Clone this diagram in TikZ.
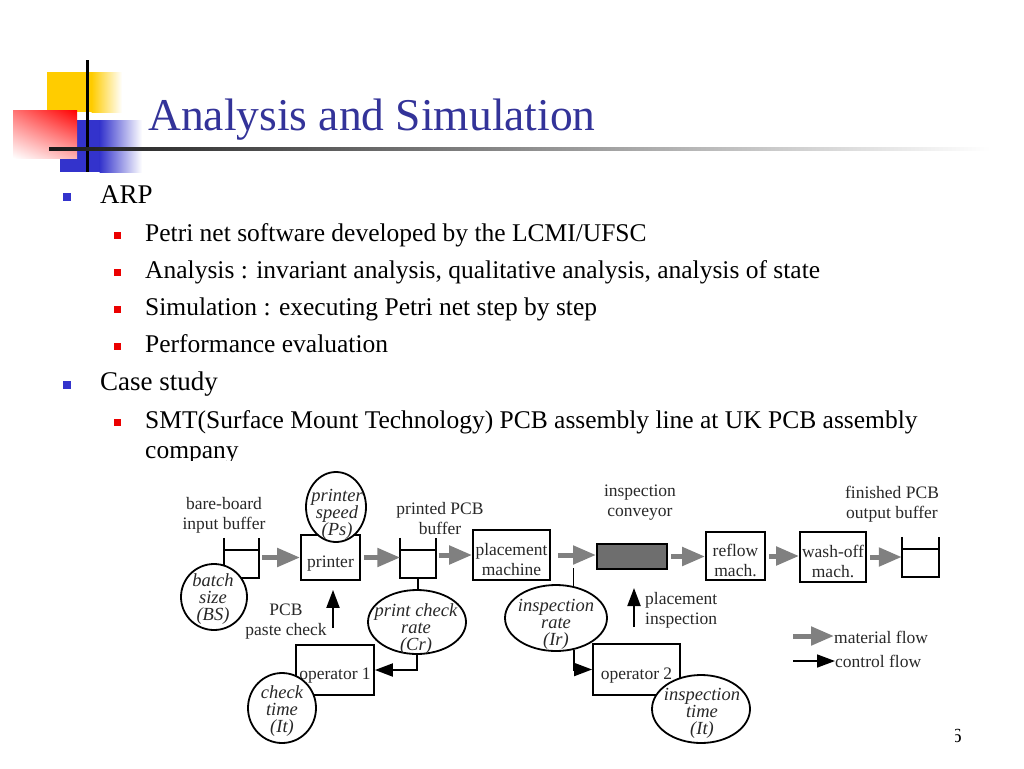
\documentclass[tikz,border=0pt]{standalone}
\usepackage{fontspec}
\setmainfont{Liberation Serif}
\usetikzlibrary{arrows.meta,shapes.geometric,calc,shadings}
\definecolor{titleblue}{RGB}{51,51,153}
\definecolor{bulblue}{RGB}{51,51,204}
\definecolor{bulred}{RGB}{235,0,0}
\definecolor{decoyellow}{RGB}{255,204,0}
\definecolor{flowgray}{RGB}{128,128,128}
\definecolor{convgray}{RGB}{110,110,110}
\definecolor{dtext}{RGB}{40,40,40}
\newcommand\dgmfont{\fontsize{17.5}{20}\selectfont}
\newcommand\elfont{\fontsize{18.5}{17}\selectfont\itshape}
\newcommand\fl{\rule{0pt}{21pt}}
\begin{document}
\begin{tikzpicture}[x=1pt,y=-1pt,
  tone/.style={anchor=base west,inner sep=0pt,font=\fontsize{27}{32}\selectfont},
  ttwo/.style={anchor=base west,inner sep=0pt,font=\fontsize{25.5}{30}\selectfont},
  box/.style={draw,line width=1.8pt,fill=white,inner sep=0pt,align=center,font=\dgmfont,text=dtext},
  oneline/.style={text height=19pt,text depth=0pt},
  circ/.style={ellipse,draw,line width=1.8pt,fill=white,inner sep=0pt},
  etext/.style={align=center,font=\elfont,text=dtext,inner sep=0pt},
  lbl/.style={align=center,font=\dgmfont,text=dtext,inner sep=0pt},
  bufbody/.style={inner sep=0pt,minimum height=28pt},
  bufline/.style={line width=2pt},
  mflow/.style={draw=flowgray,line width=5pt,shorten <=3pt,-{Triangle[length=23pt,width=18pt]}},
  cflow/.style={draw=black,line width=2pt,-{Triangle[length=18pt,width=13pt]}},
  ctl/.style={line width=1.6pt}]
\useasboundingbox (0,0) rectangle (1024,768);
\fill[white] (0,0) rectangle (1024,768);

% title decoration
\fill[decoyellow] (47,72) rectangle (92,112);
\shade[left color=decoyellow,right color=white] (91.5,72) rectangle (122,112);
\fill[bulblue] (60,120) rectangle (100,172);
\shade[left color=bulblue,right color=white] (99.5,120) rectangle (142,172);
\shade[upper right=red,upper left=red!55!white,lower right=red!30!white,lower left=white] (13,110) rectangle (77,158);
\fill[black] (85.5,60) rectangle (88.5,172);
\shade[left color=black!90,right color=white] (49,147.5) rectangle (990,150.5);
\node[anchor=base west,inner sep=0pt,text=titleblue,font=\fontsize{45.5}{55}\selectfont] (title) at (148,130) {Analysis and Simulation};

% bullets
\fill[bulblue] (63,193) rectangle (71,201);
\fill[bulblue] (63,381) rectangle (71,389);
\fill[bulred] (114,232) rectangle (121,239);
\fill[bulred] (114,269) rectangle (121,276);
\fill[bulred] (114,306) rectangle (121,313);
\fill[bulred] (114,343) rectangle (121,350);
\fill[bulred] (114,419) rectangle (121,426);

\node[tone] (arp) at (100,203) {ARP};
\node[ttwo] (b1) at (145,241) {Petri net software developed by the LCMI/UFSC};
\node[ttwo] (b2) at (145,278) {Analysis : invariant analysis, qualitative analysis, analysis of state};
\node[ttwo] (b3) at (145,315) {Simulation : executing Petri net step by step};
\node[ttwo] (b4) at (145,352) {Performance evaluation};
\node[tone] (cs) at (100,390) {Case study};
\node[ttwo] (b5) at (145,428) {SMT(Surface Mount Technology) PCB assembly line at UK PCB assembly};
\node[ttwo] (b6) at (145,458) {company};
\node[anchor=base west,inner sep=0pt,font=\fontsize{20}{24}\selectfont] (pg) at (951.5,742) {6};
% white background of the diagram
\fill[white] (160,461) rectangle (955,768);

% buffers
\node[bufbody,minimum width=35pt] (bb) at (241.5,564) {};
\node[bufbody,minimum width=35pt] (pb) at (418,564) {};
\node[bufbody,minimum width=37pt] (ob) at (920.5,563) {};
\foreach \b in {bb,pb,ob}{
  \draw[bufline] ($(\b.north west)+(0,-12)$) -- (\b.south west) -- (\b.south east) -- ($(\b.north east)+(0,-12)$);
  \draw[bufline] (\b.north west) -- (\b.north east);
}

% boxes
\node[box,oneline,minimum width=59pt,minimum height=45pt] (printer) at (330.5,557.5) {printer};
\node[box,minimum width=77pt,minimum height=50pt] (placement) at (511.5,555) {\fl placement\\machine};
\node[box,fill=convgray,line width=2pt,minimum width=70pt,minimum height=25pt] (conv) at (632,556.5) {};
\node[box,minimum width=59pt,minimum height=48pt] (reflow) at (735.5,556) {\fl reflow\\mach.};
\node[box,minimum width=66pt,minimum height=50pt] (wash) at (833,557) {\fl wash-off\\mach.};
\node[box,oneline,minimum width=78pt,minimum height=50pt] (op1) at (335,670) {operator 1};
\node[box,oneline,minimum width=87pt,minimum height=51pt] (op2) at (636.5,669.5) {operator 2};

% parameter circles
\node[circ,minimum width=66pt,minimum height=66pt] (bs) at (214,597) {};
\node[etext] (bsT) at (213,599) {batch\\size\\(BS)};
\node[circ,minimum width=60pt,minimum height=70pt] (ps) at (336,507) {};
\node[etext] (psT) at (337,514) {printer\\speed\\(Ps)};
\node[circ,minimum width=98pt,minimum height=64pt] (pcr) at (417,622) {};
\node[etext] (pcrT) at (416,629) {print check\\rate\\(Cr)};
\node[circ,minimum width=68pt,minimum height=70pt] (ct) at (282,708) {};
\node[etext] (ctT) at (282,711) {check\\time\\(It)};
\node[circ,minimum width=102pt,minimum height=66pt] (ir) at (556,618) {};
\node[etext] (irT) at (556,624) {inspection\\rate\\(Ir)};
\node[circ,minimum width=98pt,minimum height=68pt] (it) at (701,709) {};
\node[etext] (itT) at (702,713) {inspection\\time\\(It)};

% labels
\node[lbl] (bbl) at (224,515) {bare-board\\input buffer};
\node[lbl] (pbl) at (440,519) {printed PCB\\buffer};
\node[lbl] (icl) at (640,503) {inspection\\conveyor};
\node[lbl] (obl) at (892,504) {finished PCB\\output buffer};
\node[lbl] (pcl) at (286,622) {PCB\\paste check};
\node[lbl,align=left,anchor=west] (pil) at (645,610) {placement\\inspection};

% material flow
\draw[mflow] (printer.west -| bb.east) -- (printer.west);
\draw[mflow] (printer.east) -- (printer.east -| pb.west);
\draw[mflow] (placement.west -| pb.east) -- (placement.west);
\draw[mflow,shorten <=7pt] (placement.east) -- (placement.east -| conv.west);
\draw[mflow] (conv.east) -- (conv.east -| reflow.west);
\draw[mflow] (reflow.east) -- (reflow.east -| wash.west);
\draw[mflow] (wash.east) -- (wash.east -| ob.west);

% control flow
\draw[ctl] (pb.south) -- (pb.south |- pcr.north);
\coordinate (tap) at (573,568);
\draw[ctl] (ir.61 |- tap) -- (ir.61);
\draw[cflow] (pcr.south) |- (op1.east);
\draw[cflow] (ir.-60) |- (op2.west);
\coordinate (pcA) at (333,628);
\draw[cflow,shorten >=9pt] (pcA) -- (pcA |- printer.south);
\coordinate (piA) at (634,627);
\draw[cflow,shorten >=18pt] (piA) -- (piA |- conv.south);

% legend
\node[lbl,anchor=base west] (lm) at (834,643) {material flow};
\node[lbl,anchor=base west] (lc) at (835,667) {control flow};
\coordinate (lmA) at (793,636);
\coordinate (lcA) at (793,661);
\draw[mflow,shorten <=0pt] (lmA) -- (lmA -| lm.west);
\draw[cflow,line width=1.6pt] (lcA) -- (lcA -| lc.west);
\end{tikzpicture}
\end{document}
